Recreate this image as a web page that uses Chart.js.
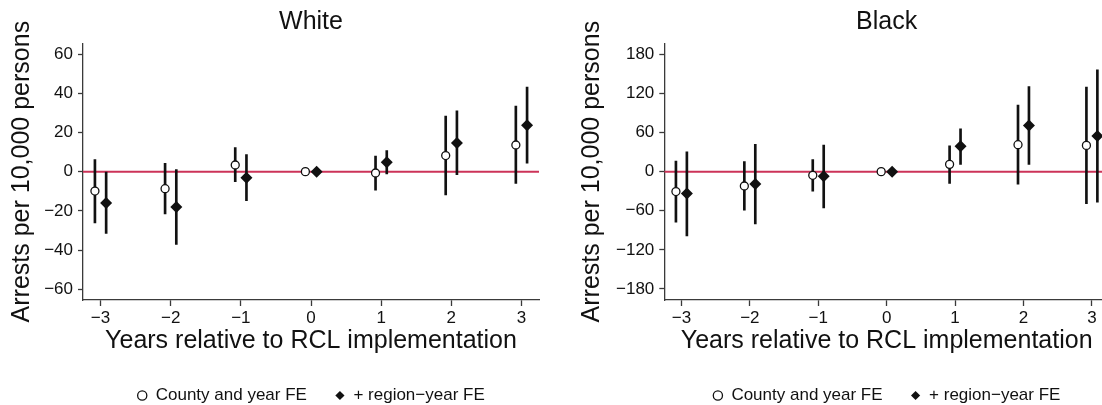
<!DOCTYPE html>
<html>
<head>
<meta charset="utf-8">
<script src="https://cdn.jsdelivr.net/npm/chart.js@4.4.1/dist/chart.umd.min.js"></script>
<style>
  html, body { margin: 0; padding: 0; background: #fff; overflow: hidden; }
  #wrap { position: relative; width: 1102px; height: 405px; overflow: hidden; }
  .panel { position: absolute; top: 0; }
  #p-white { left: 0; }
  #p-black { left: 551px; }
</style>
</head>
<body>
<div id="wrap">
  <canvas id="p-white" class="panel" width="551" height="414"></canvas>
  <canvas id="p-black" class="panel" width="570" height="414"></canvas>
</div>
<script>
/* Event-study coefficients with 95% CIs, two panels (White / Black). */
const years = [-3, -2, -1, 0, 1, 2, 3];
const shift = 0.08;            // horizontal dodge between the two specifications
const xMin = -3.25, xMax = 3.25;

const whiteTicks = [-60, -40, -20, 0, 20, 40, 60];
const blackTicks = [-180, -120, -60, 0, 60, 120, 180];

// White — County and year FE
const whiteBase   = [-9.9, -8.7, 3.4, 0, -0.7, 8.2, 13.6];
const whiteBaseLo = [-26.2, -21.6, -5.1, 0, -9.4, -11.9, -6.0];
const whiteBaseHi = [6.1, 4.3, 12.3, 0, 8.0, 28.4, 33.5];
// White — + region-year FE
const whiteReg    = [-16.0, -18.0, -3.1, 0, 4.8, 14.6, 23.7];
const whiteRegLo  = [-31.5, -37.1, -14.8, 0, -1.2, -1.5, 4.3];
const whiteRegHi  = [-0.2, 1.0, 8.7, 0, 10.7, 31.1, 43.2];

// Black — County and year FE
const blackBase   = [-30.6, -22.0, -5.6, 0, 11.2, 41.4, 40.3];
const blackBaseLo = [-77.6, -59.2, -30.1, 0, -17.9, -19.4, -49.0];
const blackBaseHi = [16.3, 15.3, 18.4, 0, 39.8, 102.1, 129.7];
// Black — + region-year FE
const blackReg    = [-33.7, -18.9, -7.2, 0, 38.8, 71.0, 54.6];
const blackRegLo  = [-98.6, -80.2, -55.7, 0, 11.2, 11.2, -47.0];
const blackRegHi  = [30.6, 41.9, 40.9, 0, 65.9, 130.7, 156.3];

const FONT = '"Liberation Sans", Arial, Helvetica, sans-serif';
const INK = '#111';
const AXIS = '#3a3a3a';
const RED = '#cc3358';
const fmt = v => (v < 0 ? '\u2212' + Math.abs(v) : String(v));

function makePanel(id, p) {
  const pts = (ys, d) => years.map((x, i) => ({ x: x + d, y: ys[i] }));
  const bars = (lo, hi, d) => years.map((x, i) => ({ x: x + d, y: [lo[i], hi[i]] }));
  const ci = (lo, hi, d) => ({
    type: 'bar', data: bars(lo, hi, d), backgroundColor: INK,
    barThickness: 2, grouped: false, order: 2,
  });

  new Chart(document.getElementById(id), {
    type: 'scatter',
    data: {
      datasets: [
        { type: 'line', data: [{ x: xMin, y: 0 }, { x: xMax, y: 0 }],
          borderColor: RED, borderWidth: 2, pointRadius: 0, order: 3 },
        ci(p.baseLo, p.baseHi, -shift),
        ci(p.regLo, p.regHi, shift),
        { label: 'County and year FE', data: pts(p.base, -shift),
          pointStyle: 'circle', pointRadius: 4, borderWidth: 1.3,
          borderColor: INK, backgroundColor: '#fff', order: 1 },
        { label: '+ region\u2212year FE', data: pts(p.reg, shift),
          pointStyle: 'rectRot', pointRadius: 6, borderWidth: 0,
          borderColor: INK, backgroundColor: INK, order: 1 },
      ],
    },
    options: {
      responsive: false,
      animation: false,
      events: [],
      layout: { padding: { left: 0, right: 12, top: 0, bottom: 0 } },
      scales: {
        x: {
          type: 'linear', min: xMin, max: xMax, offset: false,
          afterBuildTicks: s => { s.ticks = years.map(v => ({ value: v })); },
          afterFit: s => { s.height = 59; },
          border: { display: true, color: AXIS, width: 1.3 },
          grid: { display: true, offset: false, drawOnChartArea: false, drawTicks: true,
                  tickLength: 6, tickColor: AXIS, tickWidth: 1.3 },
          ticks: { autoSkip: false, maxRotation: 0, padding: 2, color: INK,
                   font: { family: FONT, size: 17 }, callback: fmt },
          title: { display: true, text: 'Years relative to RCL implementation', color: INK,
                   font: { family: FONT, size: 25, lineHeight: 1.2 }, padding: { top: 0, bottom: 3 } },
        },
        y: {
          type: 'linear', min: p.yMin, max: p.yMax,
          afterBuildTicks: s => { s.ticks = p.ticks.map(v => ({ value: v })); },
          afterFit: s => { s.width = p.axisWidth; },
          border: { display: true, color: AXIS, width: 1.3 },
          grid: { display: true, drawOnChartArea: false, drawTicks: true,
                  tickLength: 5, tickColor: AXIS, tickWidth: 1.3 },
          ticks: { autoSkip: false, padding: 5, color: INK,
                   font: { family: FONT, size: 17 }, callback: fmt },
          title: { display: true, text: 'Arrests per 10,000 persons', color: INK,
                   font: { family: FONT, size: 25, lineHeight: 1.2 },
                   padding: { top: p.titlePad, bottom: 0 } },
        },
      },
      plugins: {
        title: { display: true, text: p.title, fullSize: false, color: INK,
                 font: { family: FONT, size: 25, weight: 'normal', lineHeight: 1.2 },
                 padding: { top: 7, bottom: 6.3 } },
        legend: {
          position: 'bottom', fullSize: false,
          labels: {
            usePointStyle: true, boxWidth: 10, boxHeight: 6.5, padding: 28,
            color: INK, font: { family: FONT, size: 17 },
            filter: item => !!item.text,
          },
        },
        tooltip: { enabled: false },
      },
    },
  });
}

makePanel('p-white', {
  title: 'White', ticks: whiteTicks, yMin: -65.5, yMax: 65.5,
  axisWidth: 83, titlePad: 7,
  base: whiteBase, baseLo: whiteBaseLo, baseHi: whiteBaseHi,
  reg: whiteReg, regLo: whiteRegLo, regHi: whiteRegHi,
});

makePanel('p-black', {
  title: 'Black', ticks: blackTicks, yMin: -197, yMax: 197,
  axisWidth: 113.3, titlePad: 26.5,
  base: blackBase, baseLo: blackBaseLo, baseHi: blackBaseHi,
  reg: blackReg, regLo: blackRegLo, regHi: blackRegHi,
});
</script>
</body>
</html>
